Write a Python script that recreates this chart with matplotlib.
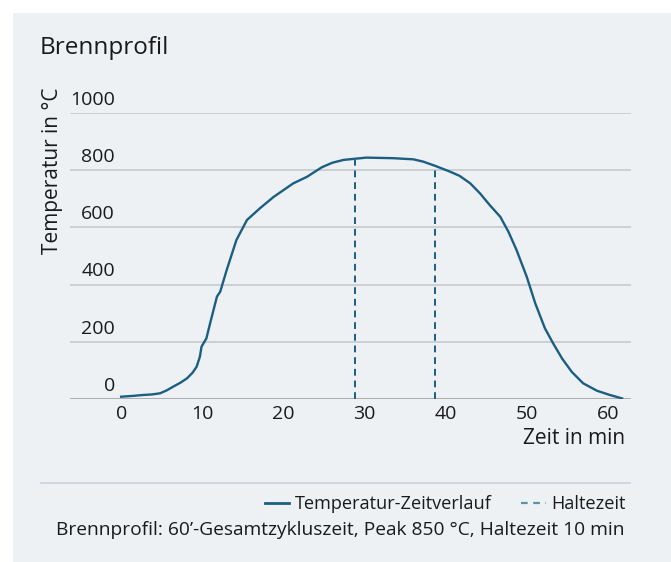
import matplotlib.pyplot as plt
from matplotlib.lines import Line2D
from matplotlib.patches import Rectangle

# Brennprofil: Zeit (min) vs Temperatur (°C)
zeit = [0, 1.5, 2.7, 3.8, 4.8, 5.6, 6.4, 7.3, 8.1, 8.8, 9.3, 9.7, 9.9, 10.5, 10.96,
        11.8, 12.2, 13.0, 14.2, 15.5, 17.1, 18.8, 21.2, 22.9, 24.7, 26.0, 27.4,
        30.2, 33.5, 36.0, 37.2, 38.7, 40.5, 41.7, 43.0, 44.2, 45.4, 46.7, 47.7,
        48.7, 49.95, 51.0, 52.2, 53.2, 54.3, 55.5, 56.9, 58.6, 60.2, 61.7]
temperatur = [8, 11, 14, 16, 20, 30, 43, 57, 72, 92, 113, 148, 183, 212, 265,
              358, 375, 451, 556, 626, 667, 707, 754, 777, 810, 826, 836,
              844, 842, 838, 830, 815, 795, 780, 754, 719, 678, 637, 585,
              521, 428, 335, 247, 195, 142, 95, 55, 29, 14, 2]

halte_zeit = [28.8, 38.6]
halte_temp = [835, 812]

x_ticks = [0, 10, 20, 30, 40, 50, 60]
y_ticks = [0, 200, 400, 600, 800, 1000]

blau = '#1b5e82'
text_col = '#1a1a1a'
plt.rcParams['font.family'] = ['Open Sans', 'DejaVu Sans']

W, H = 671, 562
fig = plt.figure(figsize=(W / 100, H / 100), dpi=100)
fig.patch.set_facecolor('white')
fig.patches.append(Rectangle((13 / W, 0), 1 - 13 / W, (H - 13) / H,
                             transform=fig.transFigure, facecolor='#edf1f4',
                             edgecolor='none', zorder=-10))

ax = fig.add_axes([70 / W, (H - 399) / H, 561 / W, 286 / H])
ax.set_facecolor('none')
ax.set_xlim(-6.3, 62.8)
ax.set_ylim(0, 1000)
for s in ax.spines.values():
    s.set_visible(False)

for v in y_ticks:
    ax.axhline(v, color='#9a9a9a' if v == 0 else '#c4c6c8', lw=1.1, zorder=1)
    ax.annotate(str(v), (-0.75, v), xytext=(0, 3), textcoords='offset points',
                ha='right', va='bottom', fontsize=14, color=text_col)

ax.plot(zeit, temperatur, color=blau, lw=1.7, zorder=3, solid_joinstyle='round')
ax.vlines(halte_zeit, 0, halte_temp, colors=blau, linestyles=(0, (3.5, 2.5)),
          lw=1.4, zorder=2)

ax.set_yticks([])
ax.set_xticks(x_ticks)
ax.set_xticklabels([str(t) for t in x_ticks], fontsize=14, color=text_col)
ax.tick_params(axis='x', length=0, pad=4)

fig.text(40 / W, 1 - 48 / H, 'Brennprofil', fontsize=17.5, color=text_col,
         ha='left', va='center')
fig.text(53 / W, 1 - 87 / H, 'Temperatur in °C', rotation=90, fontsize=15,
         color=text_col, ha='center', va='top')
fig.text(625 / W, 1 - 439 / H, 'Zeit in min', fontsize=15, color=text_col,
         ha='right', va='center', fontweight='medium')

fig.add_artist(Line2D([41 / W, 630 / W], [1 - 483 / H, 1 - 483 / H],
                      transform=fig.transFigure, color='#c8d3dc', lw=1.2))

handles = [Line2D([], [], color=blau, lw=2),
           Line2D([], [], color='#5a90b0', lw=1.6, linestyle=(0, (3, 2.5)))]
fig.legend(handles, ['Temperatur-Zeitverlauf', 'Haltezeit'], ncol=2,
           loc='center right', bbox_to_anchor=(626 / W, 1 - 504 / H),
           frameon=False, fontsize=13.1, handlelength=1.35, handletextpad=0.33,
           columnspacing=1.6, labelcolor=text_col, borderpad=0,
           borderaxespad=0)
fig.text(625 / W, 1 - 530 / H,
         'Brennprofil: 60’-Gesamtzykluszeit, Peak 850 °C, Haltezeit 10 min',
         fontsize=13.8, color=text_col, ha='right', va='center')

fig.savefig('out.png', dpi=100)
